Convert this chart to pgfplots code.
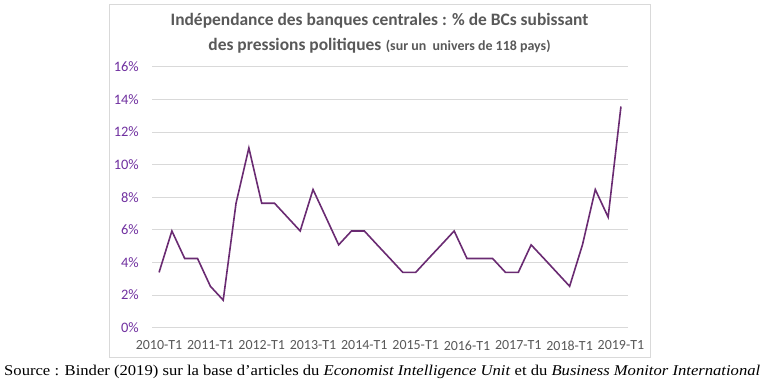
\documentclass[border=0pt]{standalone}
\usepackage{pgfplots}
\pgfplotsset{compat=1.18}
\usepackage{fontspec}
\setmainfont{Carlito}
\newfontfamily\srcfont{Liberation Serif}
\definecolor{linepurple}{HTML}{6A2B72}
\definecolor{labpurple}{HTML}{7030A0}
\definecolor{titlegray}{HTML}{595959}
\definecolor{gridgray}{HTML}{D9D9D9}
\definecolor{boxgray}{HTML}{D9D9D9}
\pgfplotstableread{
idx val
0 3.39
1 5.93
2 4.24
3 4.24
4 2.54
5 1.69
6 7.63
7 11.02
8 7.63
9 7.63
10 6.78
11 5.93
12 8.47
13 6.78
14 5.08
15 5.93
16 5.93
17 5.08
18 4.24
19 3.39
20 3.39
21 4.24
22 5.08
23 5.93
24 4.24
25 4.24
26 4.24
27 3.39
28 3.39
29 5.08
30 4.24
31 3.39
32 2.54
33 5.08
34 8.47
35 6.78
36 13.56
}\datatable
\begin{document}
\begin{tikzpicture}[x=1bp,y=1bp]
\path[use as bounding box] (0,0) rectangle (765,383);
\fill[white] (0,0) rectangle (765,383);
\draw[boxgray, line width=0.8bp] (109.5,25.5) rectangle (650.5,379);
\begin{axis}[
  at={(152bp,55.3bp)}, anchor=south west,
  width=476bp, height=261bp, scale only axis,
  xmin=-0.55, xmax=36.55, ymin=0, ymax=16,
  xtick={0,4,8,12,16,20,24,28,32,36},
  xticklabels={2010-T1,2011-T1,2012-T1,2013-T1,2014-T1,2015-T1,2016-T1,2017-T1,2018-T1,2019-T1},
  ytick={0,2,4,6,8,10,12,14,16},
  yticklabels={0\%,2\%,4\%,6\%,8\%,10\%,12\%,14\%,16\%},
  ymajorgrids, grid style={gridgray, line width=0.8bp},
  axis line style={draw=none}, tick style={draw=none},
  xticklabel style={font=\fontsize{14}{16}\selectfont, text=titlegray, inner sep=0pt, anchor=north, yshift=-13bp},
  yticklabel style={font=\fontsize{14.5}{16}\selectfont, text=labpurple, inner sep=0pt, anchor=east, xshift=-13bp},
  clip=false,
]
\addplot[linepurple, line width=1.6bp, mark=none] table[x=idx,y=val] {\datatable};
\end{axis}
\node[text=titlegray, font=\fontsize{17.5}{20}\selectfont\bfseries, anchor=center] at (379.5,362) {Indépendance des banques centrales : \% de BCs subissant};
\node[text=titlegray, anchor=center] at (379.5,337) {{\fontsize{17.5}{20}\selectfont\bfseries des pressions politiques}\hspace{4.5bp}{\fontsize{14}{16}\selectfont\bfseries (sur un \ univers de 118 pays)}};
\node[anchor=base west, inner sep=0pt, font=\srcfont\fontsize{15}{17}\selectfont] at (4,8) {\resizebox{756bp}{\height}{Source : Binder (2019) sur la base d’articles du \textit{Economist Intelligence Unit} et du \textit{Business Monitor International}}};
\end{tikzpicture}
\end{document}
